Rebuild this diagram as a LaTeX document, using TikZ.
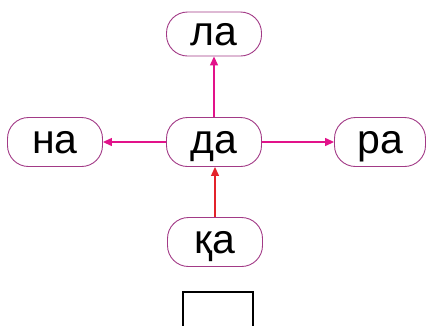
\documentclass[tikz,border=0pt]{standalone}
\usepackage{fontspec}
\setmainfont{Liberation Sans}
\usepackage{tikz}
\usetikzlibrary{arrows.meta}
\definecolor{syllborder}{HTML}{A23A86}
\definecolor{syllarrow}{HTML}{E2128A}
\definecolor{syllred}{HTML}{E3232B}
\tikzset{
  syllbox/.style={draw=syllborder,line width=0.9pt,fill=white,rounded corners=21pt,
    minimum width=95pt,minimum height=49pt,inner sep=0pt,
    text height=22pt,text depth=0pt,font=\fontsize{41}{48}\selectfont},
  syllline/.style={-{Triangle[length=9pt,width=8pt]},line width=1.3pt,draw=syllarrow},
  redline/.style={-{Triangle[length=9pt,width=8pt]},line width=1.3pt,draw=syllred}
}
\begin{document}
\begin{tikzpicture}[x=1pt,y=-1pt]
  \clip (0,0) rectangle (427,325);
  % слоги
  \node[syllbox,minimum height=44pt] (la) at (214,34) {ла};
  \node[syllbox] (da) at (214,142) {да};
  \node[syllbox] (na) at (55,142) {на};
  \node[syllbox,minimum width=91pt] (ra) at (380,142) {ра};
  \node[syllbox] (qa) at (215,242) {қа};
  % стрелки
  \draw[syllline] (da) -- (la);
  \draw[syllline] (da) -- (na);
  \draw[syllline] (da) -- (ra);
  \draw[redline] (qa.north) -- (qa.north |- da.south);
  % пустое окошко
  \draw[line width=1.3pt] (183,340) rectangle (253,292);
\end{tikzpicture}
\end{document}
